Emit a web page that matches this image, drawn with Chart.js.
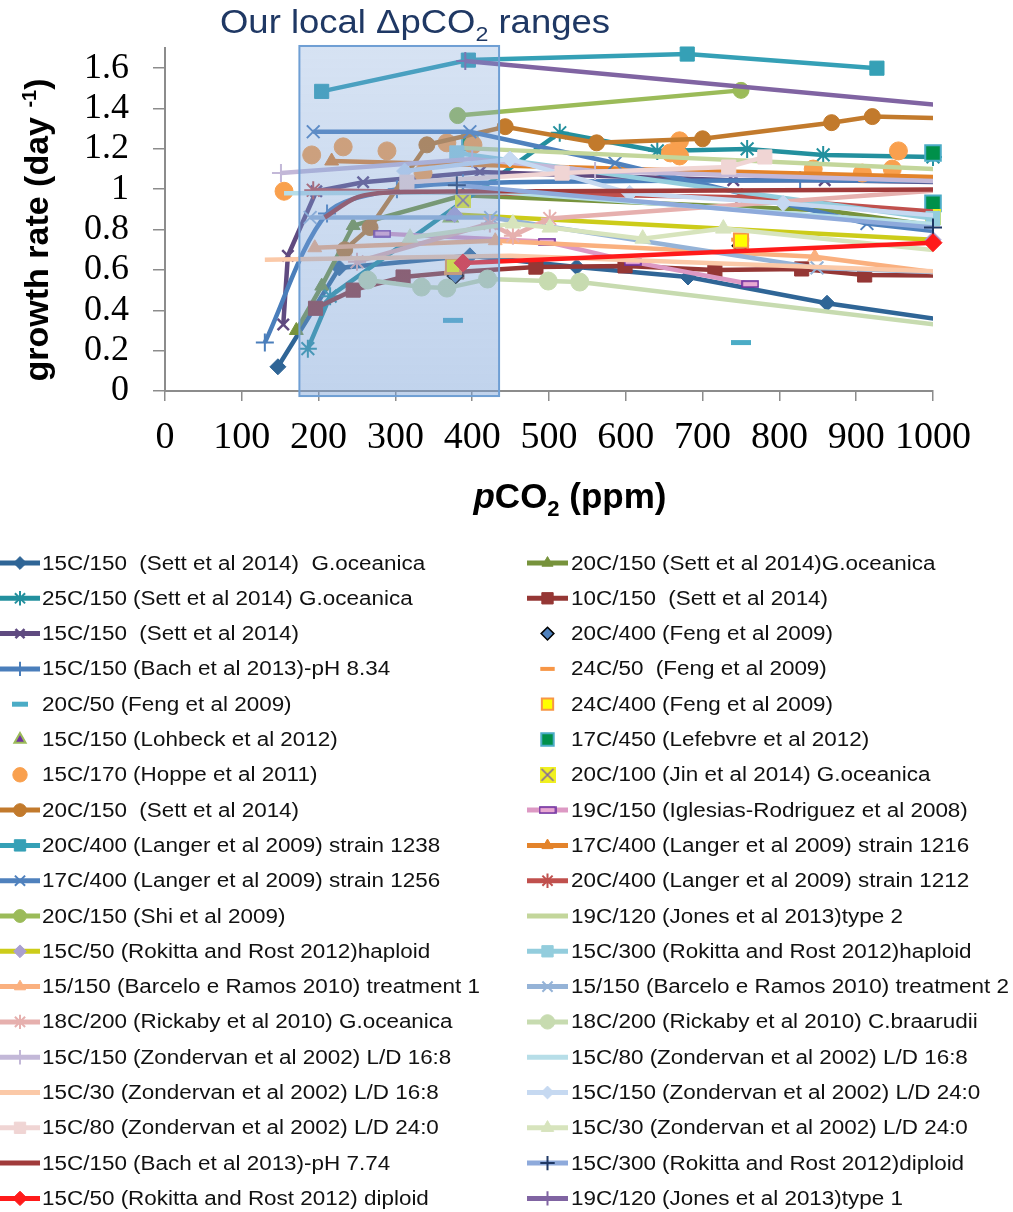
<!DOCTYPE html>
<html>
<head>
<meta charset="utf-8">
<script src="https://cdn.jsdelivr.net/npm/chart.js@4.4.1/dist/chart.umd.min.js"></script>
<style>
  html, body { margin: 0; padding: 0; background: #fff; }
  #wrap { width: 1013px; height: 1212px; }
</style>
</head>
<body>
<div id="wrap"><canvas id="chart" width="1013" height="1212"></canvas></div>
<script>
// ---------- data (pCO2 ppm, growth rate day-1) ----------
const xTicks = [0, 100, 200, 300, 400, 500, 600, 700, 800, 900, 1000];
const yTicks = [0, 0.2, 0.4, 0.6, 0.8, 1, 1.2, 1.4, 1.6];
const localRange = [175, 435];

const sett15Goc  = [[147,0.12],[227,0.61],[397,0.67],[536,0.615],[681,0.565],[862,0.435],[1100,0.305]];
const sett20Goc  = [[171,0.30],[204,0.52],[245,0.82],[388,0.97],[862,0.895],[1100,0.765]];
const sett25Goc  = [[186,0.21],[215,0.47],[514,1.28],[641,1.19],[758,1.2],[857,1.17],[1000,1.16]];
const sett10     = [[196,0.41],[245,0.50],[310,0.565],[380,0.59],[483,0.614],[599,0.62],[716,0.60],[829,0.605],[911,0.575],[1100,0.57]];
const sett15     = [[154,0.33],[160,0.67],[197,0.99],[258,1.035],[410,1.085],[740,1.045],[859,1.045],[1100,1.03]];
const feng20_400 = [[378,0.57],[749,0.72]];
const bach834    = [[130,0.24],[211,0.88],[302,1.0],[388,1.03],[827,1.045],[1100,1.035]];
const feng24_50  = [[375,0.585],[749,0.75]];
const feng20_50  = [[375,0.35],[750,0.24]];
const feng24_400 = [[375,0.62],[750,0.745]];
const lohbeck    = [[372,0.86]];
const lefebvre   = [[397,1.23],[1000,1.18],[1000,0.93]];
const hoppe      = [[155,0.99],[191,1.17],[232,1.21],[289,1.19],[336,1.08],[367,1.23],[401,1.22],[658,1.18],[670,1.24],[670,1.165],[844,1.10],[908,1.08],[947,1.10],[955,1.19]];
const jin        = [[388,0.945],[1000,0.86]];
const sett20     = [[234,0.70],[267,0.81],[341,1.22],[443,1.31],[562,1.23],[700,1.25],[868,1.33],[921,1.36],[1100,1.345]];
const iglesias   = [[283,0.78],[497,0.74],[609,0.64],[762,0.53]];
const langer1238 = [[204,1.485],[395,1.64],[680,1.67],[927,1.60]];
const langer1216 = [[217,1.14],[1100,1.05]];
const langer1256 = [[193,1.285],[397,1.285],[586,1.13],[914,0.83],[1100,0.75]];
const langer1212 = [[193,0.995],[751,0.96],[1100,0.862]];
const shi        = [[381,1.365],[750,1.49]];
const jones2     = [[384,1.205],[1100,1.083]];
const rokHap50   = [[377,0.875],[1000,0.75]];
const rokHap300  = [[380,1.18],[1000,0.855]];
const barcelo1   = [[195,0.71],[430,0.745],[846,0.665],[1100,0.54]];
const barcelo2   = [[189,0.86],[424,0.86],[849,0.61],[1100,0.577]];
const rickabyGoc = [[250,0.64],[423,0.83],[453,0.77],[501,0.855],[1100,1.02]];
const rickabyCb  = [[264,0.55],[334,0.515],[367,0.51],[420,0.555],[499,0.545],[540,0.54],[1100,0.285]];
const zond150d16 = [[151,1.08],[400,1.15],[560,1.09],[1100,1.03]];
const zond80d16  = [[155,0.98],[440,0.985],[1100,0.80]];
const zond30d16  = [[130,0.65],[450,0.67],[1100,0.58]];
const zond150d24 = [[312,1.09],[449,1.15],[605,0.98],[805,0.93],[1100,0.84]];
const zond80d24  = [[315,1.035],[517,1.08],[734,1.11],[781,1.16]];
const zond30d24  = [[319,0.76],[453,0.83],[501,0.81],[622,0.755],[727,0.805],[1100,0.66]];
const bach774    = [[208,0.86],[250,0.96],[300,0.985],[500,0.99],[1100,1.0]];
const rokDip300  = [[380,1.02],[1000,0.81]];
const rokDip50   = [[388,0.635],[1000,0.735]];
const jones1     = [[391,1.635],[1100,1.385]];

// legend order (Excel fills rows left -> right)
const seriesNames = [
  '15C/150  (Sett et al 2014)  G.oceanica', '20C/150 (Sett et al 2014)G.oceanica',
  '25C/150 (Sett et al 2014) G.oceanica', '10C/150  (Sett et al 2014)',
  '15C/150  (Sett et al 2014)', '20C/400 (Feng et al 2009)',
  '15C/150 (Bach et al 2013)-pH 8.34', '24C/50  (Feng et al 2009)',
  '20C/50 (Feng et al 2009)', '24C/400 (Feng et al 2009)',
  '15C/150 (Lohbeck et al 2012)', '17C/450 (Lefebvre et al 2012)',
  '15C/170 (Hoppe et al 2011)', '20C/100 (Jin et al 2014) G.oceanica',
  '20C/150  (Sett et al 2014)', '19C/150 (Iglesias-Rodriguez et al 2008)',
  '20C/400 (Langer et al 2009) strain 1238', '17C/400 (Langer et al 2009) strain 1216',
  '17C/400 (Langer et al 2009) strain 1256', '20C/400 (Langer et al 2009) strain 1212',
  '20C/150 (Shi et al 2009)', '19C/120 (Jones et al 2013)type 2',
  '15C/50 (Rokitta and Rost 2012)haploid', '15C/300 (Rokitta and Rost 2012)haploid',
  '15/150 (Barcelo e Ramos 2010) treatment 1', '15/150 (Barcelo e Ramos 2010) treatment 2',
  '18C/200 (Rickaby et al 2010) G.oceanica', '18C/200 (Rickaby et al 2010) C.braarudii',
  '15C/150 (Zondervan et al 2002) L/D 16:8', '15C/80 (Zondervan et al 2002) L/D 16:8',
  '15C/30 (Zondervan et al 2002) L/D 16:8', '15C/150 (Zondervan et al 2002) L/D 24:0',
  '15C/80 (Zondervan et al 2002) L/D 24:0', '15C/30 (Zondervan et al 2002) L/D 24:0',
  '15C/150 (Bach et al 2013)-pH 7.74', '15C/300 (Rokitta and Rost 2012)diploid',
  '15C/50 (Rokitta and Rost 2012) diploid', '19C/120 (Jones et al 2013)type 1'
];
const seriesData = [
  sett15Goc, sett20Goc, sett25Goc, sett10, sett15, feng20_400, bach834, feng24_50,
  feng20_50, feng24_400, lohbeck, lefebvre, hoppe, jin, sett20, iglesias,
  langer1238, langer1216, langer1256, langer1212, shi, jones2, rokHap50, rokHap300,
  barcelo1, barcelo2, rickabyGoc, rickabyCb, zond150d16, zond80d16, zond30d16, zond150d24,
  zond80d24, zond30d24, bach774, rokDip300, rokDip50, jones1
];

// ---------- custom markers ----------
function jinMarker() {
  const c = document.createElement('canvas');
  c.width = 16; c.height = 16;
  const g = c.getContext('2d');
  g.fillStyle = '#f0f020'; g.fillRect(0, 0, 16, 16);
  g.strokeStyle = '#8064a2'; g.lineWidth = 1.6;
  g.beginPath(); g.moveTo(2, 2); g.lineTo(14, 14); g.moveTo(14, 2); g.lineTo(2, 14); g.stroke();
  return c;
}
function iglesiasMarker() {
  const c = document.createElement('canvas');
  c.width = 18; c.height = 8;
  const g = c.getContext('2d');
  g.fillStyle = '#e9a9d2'; g.fillRect(1, 1, 16, 6);
  g.strokeStyle = '#7030a0'; g.lineWidth = 1.6; g.strokeRect(1, 1, 16, 6);
  return c;
}

// style per series: line colour, marker, marker fill / border
const styles = [
  { c: '#2f6596', m: 'rectRot', r: 8 },
  { c: '#77933c', m: 'triangle', r: 8 },
  { c: '#23909e', m: 'star', r: 9, bw: 2 },
  { c: '#953735', m: 'rect', r: 10 },
  { c: '#5f4a80', m: 'crossRot', r: 8, bw: 2.5 },
  { c: '#4f81bd', m: 'rectRot', r: 8, b: '#000', bw: 1.5, noLine: true },
  { c: '#4a7ebb', m: 'cross', r: 9, bw: 2, t: 0.3 },
  { c: '#f79646', m: 'line', r: 9, bw: 4, noLine: true },
  { c: '#4bacc6', m: 'line', r: 10, bw: 5, noLine: true },
  { c: '#ffff00', m: 'rect', r: 10, b: '#f79646', bw: 2, noLine: true },
  { c: '#7030a0', m: 'triangle', r: 8, b: '#9bbb59', bw: 2, noLine: true },
  { c: '#00904a', m: 'rect', r: 11, b: '#4bacc6', bw: 2, noLine: true },
  { c: '#f9a04e', m: 'circle', r: 9, noLine: true },
  { c: '#f0f020', m: jinMarker(), r: 8, noLine: true },
  { c: '#c27a2c', m: 'circle', r: 8 },
  { c: '#dd99c4', m: iglesiasMarker(), r: 8 },
  { c: '#35a0b6', m: 'rect', r: 10 },
  { c: '#e3832b', m: 'triangle', r: 8 },
  { c: '#4f81bd', m: 'crossRot', r: 9, bw: 2 },
  { c: '#c0504d', m: 'star', r: 9, bw: 2 },
  { c: '#9bbb59', m: 'circle', r: 8 },
  { c: '#c3d69b', m: null },
  { c: '#cccc1a', m: 'rectRot', r: 8, f: '#a99fd0' },
  { c: '#93cddd', m: 'rect', r: 10 },
  { c: '#fab07f', m: 'triangle', r: 8 },
  { c: '#95b3d7', m: 'crossRot', r: 9, bw: 2 },
  { c: '#e6b0ae', m: 'star', r: 9, bw: 2 },
  { c: '#c7dbb0', m: 'circle', r: 9 },
  { c: '#c3b8d8', m: 'cross', r: 9, bw: 2 },
  { c: '#b7dee8', m: null },
  { c: '#fbc9a8', m: null },
  { c: '#c6d9f1', m: 'rectRot', r: 8 },
  { c: '#f0d5d4', m: 'rect', r: 10 },
  { c: '#d7e4bd', m: 'triangle', r: 9 },
  { c: '#a13b3b', m: null, t: 0.3 },
  { c: '#8eaadb', m: 'cross', r: 9, bw: 2, b: '#1f3864' },
  { c: '#ff1a1a', m: 'rectRot', r: 9 },
  { c: '#8064a2', m: 'cross', r: 9, bw: 2 }
];

const datasets = seriesNames.map((name, i) => {
  const s = styles[i];
  const pts = seriesData[i];
  const ds = {
    label: name,
    data: pts.map((p) => ({ x: p[0], y: p[1] })),
    showLine: !s.noLine,
    borderColor: s.c,
    backgroundColor: s.f || s.c,
    borderWidth: 4.5,
    tension: s.t || 0,
    pointStyle: s.m || false,
    pointRadius: s.m ? s.r : 0,
    pointBackgroundColor: s.f || s.c,
    pointBorderColor: s.b || s.f || s.c,
    pointBorderWidth: s.bw || 1,
    order: seriesNames.length - i,
  };
  if (!pts.some((p) => p[0] > 1000)) ds.clip = false;
  return ds;
});

// ---------- drawing helpers ----------
function drawRuns(ctx, x, y, runs) {
  let cx = x;
  runs.forEach((r) => {
    ctx.font = r.font;
    ctx.fillText(r.t, cx, y + (r.dy || 0));
    cx += ctx.measureText(r.t).width;
  });
}
function runsWidth(ctx, runs) {
  let w = 0;
  runs.forEach((r) => { ctx.font = r.font; w += ctx.measureText(r.t).width; });
  return w;
}
function drawMarker(ctx, style, x, y, r, fill, stroke, bw) {
  ctx.save();
  ctx.fillStyle = fill; ctx.strokeStyle = stroke; ctx.lineWidth = bw;
  ctx.beginPath();
  if (style instanceof HTMLCanvasElement) {
    ctx.drawImage(style, x - style.width / 2, y - style.height / 2);
  } else if (style === 'circle') {
    ctx.arc(x, y, r, 0, Math.PI * 2); ctx.fill(); ctx.stroke();
  } else if (style === 'rect') {
    const h = r * Math.SQRT1_2; ctx.rect(x - h, y - h, 2 * h, 2 * h); ctx.fill(); ctx.stroke();
  } else if (style === 'rectRot') {
    ctx.moveTo(x, y - r); ctx.lineTo(x + r, y); ctx.lineTo(x, y + r); ctx.lineTo(x - r, y); ctx.closePath(); ctx.fill(); ctx.stroke();
  } else if (style === 'triangle') {
    ctx.moveTo(x, y - r); ctx.lineTo(x + r * 0.87, y + r * 0.5); ctx.lineTo(x - r * 0.87, y + r * 0.5); ctx.closePath(); ctx.fill(); ctx.stroke();
  } else if (style === 'line') {
    ctx.moveTo(x - r, y); ctx.lineTo(x + r, y); ctx.stroke();
  } else {
    const d = r * Math.SQRT1_2;
    if (style === 'cross' || style === 'star') { ctx.moveTo(x, y - r); ctx.lineTo(x, y + r); ctx.moveTo(x - r, y); ctx.lineTo(x + r, y); }
    if (style === 'crossRot' || style === 'star') { ctx.moveTo(x - d, y - d); ctx.lineTo(x + d, y + d); ctx.moveTo(x + d, y - d); ctx.lineTo(x - d, y + d); }
    ctx.stroke();
  }
  ctx.restore();
}

// shaded box for the local pCO2 range, drawn over the data
const rangeBox = {
  id: 'rangeBox',
  afterDatasetsDraw(chart) {
    const { ctx, scales: { x, y } } = chart;
    const l = x.getPixelForValue(localRange[0]);
    const r = x.getPixelForValue(localRange[1]);
    const t = y.getPixelForValue(1.71);
    const b = y.getPixelForValue(-0.025);
    ctx.save();
    const g = ctx.createLinearGradient(0, t, 0, b);
    g.addColorStop(0, 'rgba(120,160,215,0.30)');
    g.addColorStop(1, 'rgba(120,160,215,0.46)');
    ctx.fillStyle = g;
    ctx.fillRect(l, t, r - l, b - t);
    ctx.strokeStyle = '#6f9fd4';
    ctx.lineWidth = 2;
    ctx.strokeRect(l, t, r - l, b - t);
    ctx.restore();
  },
};

// titles and the two-column legend
const legendFont = '20px "Liberation Sans", Arial, sans-serif';
const texts = {
  id: 'texts',
  afterDraw(chart) {
    const ctx = chart.ctx;
    ctx.save();
    ctx.textBaseline = 'alphabetic';
    ctx.textAlign = 'left';

    // box caption
    ctx.fillStyle = '#1f3864';
    const cap = [
      { t: 'Our local \u0394pCO', font: '33px "Liberation Sans", Arial, sans-serif' },
      { t: '2', font: '21px "Liberation Sans", Arial, sans-serif', dy: 8 },
      { t: ' ranges', font: '33px "Liberation Sans", Arial, sans-serif' },
    ];
    const cw = runsWidth(ctx, cap);
    ctx.save();
    ctx.translate(220, 33);
    ctx.scale(390 / cw, 1);
    drawRuns(ctx, 0, 0, cap);
    ctx.restore();

    // y title
    ctx.fillStyle = '#000';
    const yt = [
      { t: 'growth rate (day ', font: 'bold 34px "Liberation Sans", Arial, sans-serif' },
      { t: '-1', font: 'bold 20px "Liberation Sans", Arial, sans-serif', dy: -12 },
      { t: ')', font: 'bold 34px "Liberation Sans", Arial, sans-serif' },
    ];
    ctx.save();
    ctx.translate(48, 230);
    ctx.rotate(-Math.PI / 2);
    drawRuns(ctx, -runsWidth(ctx, yt) / 2, 0, yt);
    ctx.restore();

    // x title
    const xt = [
      { t: 'p', font: 'italic bold 35px "Liberation Sans", Arial, sans-serif' },
      { t: 'CO', font: 'bold 35px "Liberation Sans", Arial, sans-serif' },
      { t: '2', font: 'bold 22px "Liberation Sans", Arial, sans-serif', dy: 8 },
      { t: ' (ppm)', font: 'bold 35px "Liberation Sans", Arial, sans-serif' },
    ];
    drawRuns(ctx, 570 - runsWidth(ctx, xt) / 2, 508, xt);

    // legend: text is a little wider than the font in the original
    ctx.textBaseline = 'middle';
    ctx.font = legendFont;
    const sx = 438 / ctx.measureText(seriesNames[25]).width;
    seriesNames.forEach((name, i) => {
      const s = styles[i];
      const col = i % 2;
      const row = Math.floor(i / 2);
      const y = 563 + row * 35.3;
      const x0 = col ? 527 : 0;
      const x1 = col ? 568 : 40;
      const xm = (x0 + x1) / 2;
      if (!s.noLine) {
        ctx.save();
        ctx.strokeStyle = s.c; ctx.lineWidth = 5;
        ctx.beginPath(); ctx.moveTo(x0, y); ctx.lineTo(x1, y); ctx.stroke();
        ctx.restore();
      }
      if (s.m) {
        drawMarker(ctx, s.m, xm, y, s.r * 0.8, s.f || s.c, s.b || s.f || s.c, s.bw || 1);
      }
      ctx.save();
      ctx.fillStyle = '#111';
      ctx.font = legendFont;
      ctx.translate(col ? 571 : 42, y + 1);
      ctx.scale(sx, 1);
      ctx.fillText(name, 0, 0);
      ctx.restore();
    });
    ctx.restore();
  },
};

const axisGrey = '#8c8c8c';
new Chart(document.getElementById('chart'), {
  type: 'scatter',
  data: { datasets },
  options: {
    responsive: false,
    devicePixelRatio: 1,
    animation: false,
    layout: { padding: { top: 48, left: 0, right: 80, bottom: 761 } },
    plugins: { legend: { display: false }, tooltip: { enabled: false } },
    scales: {
      x: {
        type: 'linear', min: 0, max: 1000,
        afterBuildTicks: (s) => { s.ticks = xTicks.map((v) => ({ value: v })); },
        afterFit: (s) => { s.height = 60; },
        ticks: {
          autoSkip: false, maxRotation: 0, padding: 14, color: '#000',
          font: { family: '"Liberation Serif", "Times New Roman", serif', size: 38 },
          callback: (v) => String(v),
        },
        grid: { drawOnChartArea: false, tickLength: 10, color: axisGrey, lineWidth: 1.5 },
        border: { color: axisGrey, width: 2 },
      },
      y: {
        type: 'linear', min: 0, max: 1.7,
        afterBuildTicks: (s) => { s.ticks = yTicks.map((v) => ({ value: v })); },
        afterFit: (s) => { s.width = 165; },
        ticks: {
          autoSkip: false, padding: 24, color: '#000',
          font: { family: '"Liberation Serif", "Times New Roman", serif', size: 36 },
          callback: (v) => String(Math.round(v * 10) / 10),
        },
        grid: { drawOnChartArea: false, tickLength: 12, color: axisGrey, lineWidth: 1.5 },
        border: { color: axisGrey, width: 2 },
      },
    },
  },
  plugins: [rangeBox, texts],
});
</script>
</body>
</html>
